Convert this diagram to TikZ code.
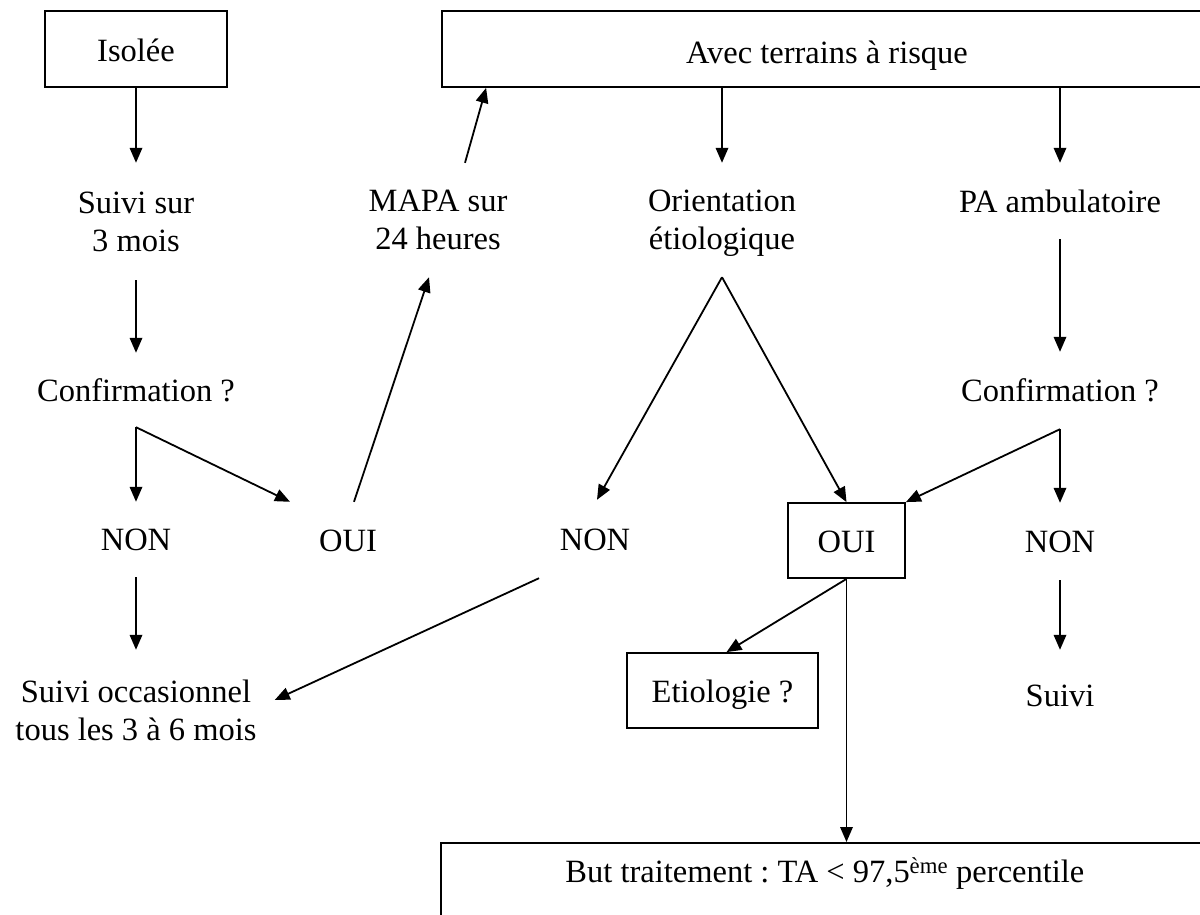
\documentclass[tikz,border=0pt]{standalone}
\usepackage{fontspec}
\setmainfont{Liberation Serif}
\usetikzlibrary{arrows.meta,calc}
\frenchspacing
\begin{document}
\begin{tikzpicture}[x=1pt,y=-1pt,
  every node/.style={font=\fontsize{32.5}{38}\selectfont, inner sep=0pt},
  box/.style={draw, line width=1.8pt, text height=22pt, text depth=0pt},
  lbl/.style={align=center},
  txt/.style={text height=22pt, text depth=0pt},
  arr/.style={line width=1.8pt, -{Triangle[length=15pt,width=12.5pt]}}]
\useasboundingbox (0,0) rectangle (1200,915);
\clip (0,0) rectangle (1200,915);

% boxes
\node[box, minimum width=182pt, minimum height=76pt, text height=26pt] (iso) at (136,49) {Isolée};
\node[box, minimum width=770pt, minimum height=76pt, text height=30pt] (avec) at (827,49) {Avec terrains à risque};
\node[box, minimum width=117pt, minimum height=75pt, text height=23pt] (ouibox) at (846.5,540.5) {OUI};
\node[box, minimum width=191pt, minimum height=75pt, text height=24pt] (etio) at (722.5,690.5) {Etiologie ?};
\node[draw, line width=1.8pt, anchor=north west, minimum width=768pt,
      text height=40pt, text depth=43pt] (but) at (440,842)
      {But traitement : TA < 97,5\textsuperscript{ème} percentile};

% left branch
\node[lbl, minimum height=117pt] (suivi) at (136,221.5) {Suivi sur\\3 mois};
\node[txt, minimum height=74pt] (conf1) at (136,390) {Confirmation ?};
\node[txt, minimum height=75pt] (non1) at (136,539.5) {NON};
\node[txt, minimum height=76pt] (oui1) at (348,540) {OUI};
\node[lbl, minimum height=120pt] (suivocc) at (136,710) {Suivi occasionnel\\tous les 3 à 6 mois};
\node[lbl, minimum height=114pt] (mapa) at (438,220) {MAPA sur\\24 heures};

% middle branch
\node[lbl, minimum height=114pt] (orient) at (722,220) {Orientation\\\smash{étiologique}};
\node[txt, minimum height=78pt] (non2) at (595,539) {NON};

% right branch
\node[txt, minimum height=76pt] (pa) at (1060,201) {PA ambulatoire};
\node[txt, minimum height=77pt] (conf2) at (1060,390.5) {Confirmation ?};
\node[txt, minimum height=77pt] (non3) at (1060,541.5) {NON};
\node[txt, minimum height=90pt] (suivi2) at (1060,695) {Suivi};

% connectors
\draw[arr] (iso.south) -- (suivi.north);
\draw[arr] (suivi.south) -- (conf1.north);
\draw[arr] (conf1.south) -- (non1.north);
\draw[arr] (conf1.south) -- ($(oui1.north)+(-58,0)$);
\draw[arr] (non1.south) -- (suivocc.north);
\draw[arr] ($(oui1.north)+(6,0)$) -- ($(mapa.south)+(-9,0)$);
\draw[arr] ($(mapa.north)+(27,0)$) -- ($(avec.south west)+(45,0)$);

\draw[arr] (orient.north |- avec.south) -- (orient.north);
\draw[arr] (pa.north |- avec.south) -- (pa.north);
\draw[arr] (orient.south) -- ($(non2.north)+(2,0)$);
\draw[arr] (orient.south) -- (ouibox.north);
\draw[arr] ($(non2.south)+(-56,0)$) -- ($(suivocc.east)+(18,-10)$);

\draw[arr] (pa.south) -- (conf2.north);
\draw[arr] (conf2.south) -- (non3.north);
\draw[arr] (conf2.south) -- (ouibox.north east);
\draw[arr] (non3.south) -- (suivi2.north);

\draw[arr] (ouibox.south) -- ($(etio.north)+(4,0)$);
\draw[arr] (ouibox.south) -- (ouibox.south |- but.north);
\end{tikzpicture}
\end{document}
